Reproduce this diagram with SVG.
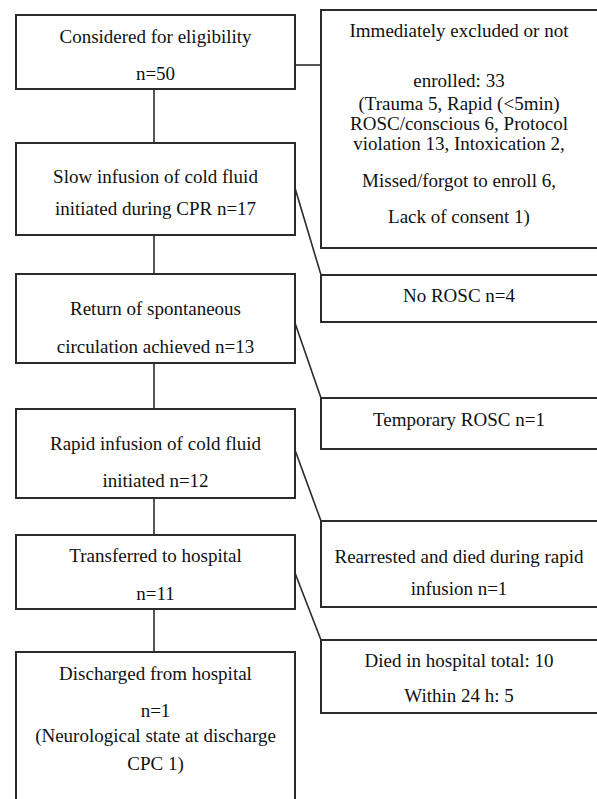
<svg xmlns="http://www.w3.org/2000/svg" width="597" height="799" viewBox="0 0 597 799">
<style>
.box{fill:#fff;stroke:#2b2b2b;stroke-width:2}
.con{fill:none;stroke:#2b2b2b;stroke-width:1.6}
text{font-family:"Liberation Serif","Times New Roman",serif;font-size:19px;fill:#111;text-anchor:middle}
</style>
<rect width="597" height="799" fill="#fff"/>
<g id="connectors">
<line class="con" x1="154" y1="89" x2="154" y2="143"/>
<line class="con" x1="154" y1="235" x2="154" y2="274"/>
<line class="con" x1="154" y1="363" x2="154" y2="409"/>
<line class="con" x1="154" y1="498" x2="154" y2="535"/>
<line class="con" x1="154" y1="609" x2="154" y2="652"/>
<line class="con" x1="295" y1="65" x2="321" y2="65"/>
<line class="con" x1="295" y1="188" x2="321" y2="275"/>
<line class="con" x1="295" y1="323" x2="321" y2="398"/>
<line class="con" x1="295" y1="450" x2="321" y2="521"/>
<line class="con" x1="295" y1="573" x2="321" y2="640"/>
</g>
<g id="n1"><rect class="box" x="16" y="15" width="279" height="74"/>
<text x="155.5" y="43">Considered for eligibility</text><text x="155.5" y="80">n=50</text></g>
<g id="n2"><rect class="box" x="16" y="143" width="279" height="92"/>
<text x="155.5" y="183">Slow infusion of cold fluid</text><text x="155.5" y="215">initiated during CPR n=17</text></g>
<g id="n3"><rect class="box" x="16" y="274" width="279" height="89"/>
<text x="155.5" y="315">Return of spontaneous</text><text x="155.5" y="353">circulation achieved n=13</text></g>
<g id="n4"><rect class="box" x="16" y="409" width="279" height="89"/>
<text x="155.5" y="450">Rapid infusion of cold fluid</text><text x="155.5" y="487">initiated n=12</text></g>
<g id="n5"><rect class="box" x="16" y="535" width="279" height="74"/>
<text x="155.5" y="562">Transferred to hospital</text><text x="155.5" y="600">n=11</text></g>
<g id="n6"><rect class="box" x="16" y="652" width="279" height="160"/>
<text x="155.5" y="680">Discharged from hospital</text><text x="155.5" y="717">n=1</text>
<text x="155.5" y="742">(Neurological state at discharge</text><text x="155.5" y="770">CPC 1)</text></g>
<g id="r1"><rect class="box" x="321" y="10" width="290" height="238"/>
<text x="459" y="37">Immediately excluded or not</text><text x="459" y="87">enrolled: 33</text>
<text x="459" y="110">(Trauma 5, Rapid (&lt;5min)</text><text x="459" y="130">ROSC/conscious 6, Protocol</text>
<text x="459" y="150">violation 13, Intoxication 2,</text><text x="459" y="187">Missed/forgot to enroll 6,</text>
<text x="459" y="223">Lack of consent 1)</text></g>
<g id="r2"><rect class="box" x="321" y="275" width="290" height="47"/>
<text x="459" y="302">No ROSC n=4</text></g>
<g id="r3"><rect class="box" x="321" y="398" width="290" height="51"/>
<text x="459" y="426">Temporary ROSC n=1</text></g>
<g id="r4"><rect class="box" x="321" y="521" width="290" height="86"/>
<text x="459" y="563">Rearrested and died during rapid</text><text x="459" y="595">infusion n=1</text></g>
<g id="r5"><rect class="box" x="321" y="640" width="290" height="73"/>
<text x="459" y="667">Died in hospital total: 10</text><text x="459" y="702">Within 24 h: 5</text></g>
</svg>
